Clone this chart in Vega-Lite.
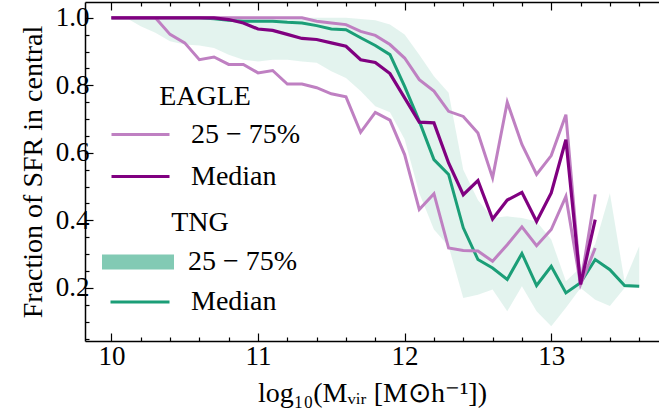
{
  "$schema": "https://vega.github.io/schema/vega-lite/v6.json",
  "width": 574,
  "height": 339,
  "autosize": {"type": "none"},
  "padding": {"left": 85, "top": 2, "right": 0, "bottom": 75},
  "background": "white",
  "config": {
    "view": {"stroke": null},
    "font": "Liberation Serif",
    "axis": {
      "grid": false,
      "domainColor": "black",
      "domainWidth": 1.5,
      "tickColor": "black",
      "tickWidth": 1.2,
      "labelColor": "black",
      "titleColor": "black",
      "labelFont": "Liberation Serif",
      "titleFont": "Liberation Serif",
      "labelFontSize": 27,
      "titleFontSize": 28,
      "titleFontWeight": "normal"
    },
    "legend": {
      "orient": "none",
      "padding": 0,
      "labelFont": "Liberation Serif",
      "titleFont": "Liberation Serif",
      "labelFontSize": 28,
      "titleFontSize": 28,
      "titleFontWeight": "normal",
      "labelColor": "black",
      "titleColor": "black",
      "titleAnchor": "middle"
    }
  },
  "datasets": {
    "tng": [
      {"x": 10.0, "lo": 1.0, "med": 1.0, "hi": 1.0},
      {"x": 10.1, "lo": 1.0, "med": 1.0, "hi": 1.0},
      {"x": 10.2, "lo": 0.975, "med": 1.0, "hi": 1.0},
      {"x": 10.3, "lo": 0.956, "med": 1.0, "hi": 1.0},
      {"x": 10.4, "lo": 0.931, "med": 1.0, "hi": 1.0},
      {"x": 10.5, "lo": 0.921, "med": 1.0, "hi": 1.0},
      {"x": 10.6, "lo": 0.918, "med": 1.0, "hi": 1.0},
      {"x": 10.7, "lo": 0.911, "med": 0.997, "hi": 1.0},
      {"x": 10.8, "lo": 0.891, "med": 0.993, "hi": 1.0},
      {"x": 10.9, "lo": 0.876, "med": 0.99, "hi": 1.0},
      {"x": 11.0, "lo": 0.871, "med": 0.99, "hi": 1.0},
      {"x": 11.1, "lo": 0.876, "med": 0.99, "hi": 1.0},
      {"x": 11.2, "lo": 0.876, "med": 0.987, "hi": 1.0},
      {"x": 11.3, "lo": 0.871, "med": 0.985, "hi": 1.0},
      {"x": 11.4, "lo": 0.867, "med": 0.977, "hi": 1.0},
      {"x": 11.5, "lo": 0.842, "med": 0.967, "hi": 1.0},
      {"x": 11.6, "lo": 0.822, "med": 0.965, "hi": 1.0},
      {"x": 11.7, "lo": 0.783, "med": 0.941, "hi": 0.997},
      {"x": 11.8, "lo": 0.738, "med": 0.918, "hi": 0.993},
      {"x": 11.9, "lo": 0.72, "med": 0.891, "hi": 0.98},
      {"x": 12.0, "lo": 0.64, "med": 0.797, "hi": 0.951},
      {"x": 12.1, "lo": 0.48, "med": 0.694, "hi": 0.891},
      {"x": 12.2, "lo": 0.373, "med": 0.58, "hi": 0.827},
      {"x": 12.3, "lo": 0.323, "med": 0.536, "hi": 0.778},
      {"x": 12.4, "lo": 0.17, "med": 0.378, "hi": 0.55},
      {"x": 12.5, "lo": 0.18, "med": 0.284, "hi": 0.46},
      {"x": 12.6, "lo": 0.195, "med": 0.259, "hi": 0.407},
      {"x": 12.7, "lo": 0.131, "med": 0.225, "hi": 0.412},
      {"x": 12.8, "lo": 0.205, "med": 0.302, "hi": 0.407},
      {"x": 12.9, "lo": 0.131, "med": 0.207, "hi": 0.397},
      {"x": 13.0, "lo": 0.086, "med": 0.264, "hi": 0.343},
      {"x": 13.1, "lo": 0.141, "med": 0.185, "hi": 0.22},
      {"x": 13.2, "lo": 0.2, "med": 0.215, "hi": 0.26},
      {"x": 13.3, "lo": 0.165, "med": 0.284, "hi": 0.33},
      {"x": 13.4, "lo": 0.146, "med": 0.254, "hi": 0.48},
      {"x": 13.5, "lo": 0.2, "med": 0.207, "hi": 0.22},
      {"x": 13.6, "lo": 0.2, "med": 0.205, "hi": 0.323}
    ],
    "eagle": [
      {"x": 10.0, "lo": 1.0, "med": 1.0, "hi": 1.0},
      {"x": 10.1, "lo": 1.0, "med": 1.0, "hi": 1.0},
      {"x": 10.2, "lo": 1.0, "med": 1.0, "hi": 1.0},
      {"x": 10.3, "lo": 1.0, "med": 1.0, "hi": 1.0},
      {"x": 10.4, "lo": 0.951, "med": 1.0, "hi": 1.0},
      {"x": 10.5, "lo": 0.926, "med": 1.0, "hi": 1.0},
      {"x": 10.6, "lo": 0.876, "med": 1.0, "hi": 1.0},
      {"x": 10.7, "lo": 0.884, "med": 1.0, "hi": 1.0},
      {"x": 10.8, "lo": 0.862, "med": 0.995, "hi": 1.0},
      {"x": 10.9, "lo": 0.862, "med": 0.985, "hi": 1.0},
      {"x": 11.0, "lo": 0.837, "med": 0.967, "hi": 1.0},
      {"x": 11.1, "lo": 0.844, "med": 0.963, "hi": 1.0},
      {"x": 11.2, "lo": 0.804, "med": 0.951, "hi": 1.0},
      {"x": 11.3, "lo": 0.804, "med": 0.939, "hi": 1.0},
      {"x": 11.4, "lo": 0.793, "med": 0.936, "hi": 0.99},
      {"x": 11.5, "lo": 0.775, "med": 0.926, "hi": 0.985},
      {"x": 11.6, "lo": 0.766, "med": 0.916, "hi": 0.98},
      {"x": 11.7, "lo": 0.661, "med": 0.876, "hi": 0.96},
      {"x": 11.8, "lo": 0.72, "med": 0.868, "hi": 0.948},
      {"x": 11.9, "lo": 0.697, "med": 0.835, "hi": 0.921},
      {"x": 12.0, "lo": 0.595, "med": 0.763, "hi": 0.881},
      {"x": 12.1, "lo": 0.432, "med": 0.691, "hi": 0.817},
      {"x": 12.2, "lo": 0.479, "med": 0.689, "hi": 0.783},
      {"x": 12.3, "lo": 0.318, "med": 0.57, "hi": 0.723},
      {"x": 12.4, "lo": 0.311, "med": 0.476, "hi": 0.708},
      {"x": 12.5, "lo": 0.309, "med": 0.518, "hi": 0.659},
      {"x": 12.6, "lo": 0.279, "med": 0.404, "hi": 0.526},
      {"x": 12.7, "lo": 0.328, "med": 0.46, "hi": 0.75},
      {"x": 12.8, "lo": 0.381, "med": 0.483, "hi": 0.625},
      {"x": 12.9, "lo": 0.325, "med": 0.397, "hi": 0.536},
      {"x": 13.0, "lo": 0.373, "med": 0.481, "hi": 0.592},
      {"x": 13.1, "lo": 0.471, "med": 0.639, "hi": 0.713},
      {"x": 13.2, "lo": 0.21, "med": 0.21, "hi": 0.21},
      {"x": 13.3, "lo": 0.318, "med": 0.402, "hi": 0.477}
    ]
  },
  "layer": [
    {
      "data": {"name": "tng"},
      "mark": {"type": "area", "fillOpacity": 0.12},
      "encoding": {
        "x": {
          "field": "x", "type": "quantitative",
          "scale": {"domain": [9.82, 13.735], "nice": false, "zero": false},
          "axis": {
            "orient": "bottom", "values": [10, 11, 12, 13], "format": "d",
            "tickSize": -8, "labelPadding": 10,
            "title": "log₁₀(Mᵥᵢᵣ [M⊙h⁻¹])", "titlePadding": 10
          }
        },
        "y": {
          "field": "hi", "type": "quantitative",
          "scale": {"domain": [0.0426, 1.047], "nice": false, "zero": false},
          "axis": {
            "orient": "left", "values": [0.2, 0.4, 0.6, 0.8, 1.0], "format": ".1f",
            "tickSize": -8, "labelPadding": 4,
            "title": "Fraction of SFR in central", "titlePadding": 8
          }
        },
        "y2": {"field": "lo"},
        "color": {
          "datum": "25 − 75%",
          "scale": {"range": ["#1b9e77"]},
          "legend": {
            "title": "TNG", "legendX": 17, "legendY": 207, "titlePadding": -11,
            "symbolType": "M-1,-0.21H1V0.21H-1Z", "symbolSize": 5184,
            "symbolOpacity": 0.55, "symbolStrokeWidth": 0, "labelOffset": 14
          }
        }
      }
    },
    {
      "data": {"name": "tng"},
      "mark": {"type": "line", "strokeWidth": 3},
      "encoding": {
        "x": {
          "field": "x", "type": "quantitative",
          "axis": {
            "orient": "bottom", "values": [9.8, 10.2, 10.4, 10.6, 10.8, 11.2, 11.4, 11.6, 11.8, 12.2, 12.4, 12.6, 12.8, 13.2, 13.4, 13.6],
            "tickSize": -4, "labels": false, "domain": false, "title": null
          }
        },
        "y": {
          "field": "med", "type": "quantitative",
          "axis": {
            "orient": "left", "values": [0.05, 0.1, 0.15, 0.25, 0.3, 0.35, 0.45, 0.5, 0.55, 0.65, 0.7, 0.75, 0.85, 0.9, 0.95],
            "tickSize": -4, "labels": false, "domain": false, "title": null
          }
        },
        "color": {
          "datum": "Median",
          "scale": {"range": ["#1b9e77"]},
          "legend": {
            "title": null, "legendX": 24, "legendY": 269,
            "symbolType": "stroke", "symbolSize": 3481, "symbolStrokeWidth": 3, "labelOffset": 20
          }
        }
      }
    },
    {
      "data": {"name": "eagle"},
      "transform": [{"fold": ["lo", "hi"], "as": ["bound", "v"]}],
      "mark": {"type": "line", "strokeWidth": 3},
      "encoding": {
        "x": {
          "field": "x", "type": "quantitative",
          "axis": {
            "orient": "top", "values": [10, 11, 12, 13],
            "tickSize": -8, "labels": false, "title": null
          }
        },
        "y": {"field": "v", "type": "quantitative", "axis": null},
        "detail": {"field": "bound"},
        "color": {
          "datum": "25 − 75%",
          "scale": {"range": ["#bf80c2"]},
          "legend": {
            "title": "EAGLE", "legendX": 25, "legendY": 81, "titlePadding": -7,
            "symbolType": "stroke", "symbolSize": 3364, "symbolStrokeWidth": 3, "labelOffset": 20
          }
        }
      }
    },
    {
      "data": {"name": "eagle"},
      "mark": {"type": "line", "strokeWidth": 3.2},
      "encoding": {
        "x": {
          "field": "x", "type": "quantitative",
          "axis": {
            "orient": "top", "values": [9.8, 10.2, 10.4, 10.6, 10.8, 11.2, 11.4, 11.6, 11.8, 12.2, 12.4, 12.6, 12.8, 13.2, 13.4, 13.6],
            "tickSize": -4, "labels": false, "domain": false, "title": null
          }
        },
        "y": {"field": "med", "type": "quantitative", "axis": null},
        "color": {
          "datum": "Median",
          "scale": {"range": ["#800080"]},
          "legend": {
            "title": null, "legendX": 25, "legendY": 144,
            "symbolType": "stroke", "symbolSize": 3364, "symbolStrokeWidth": 3, "labelOffset": 20
          }
        }
      }
    }
  ],
  "resolve": {
    "scale": {"color": "independent"},
    "axis": {"x": "independent", "y": "independent"}
  }
}
